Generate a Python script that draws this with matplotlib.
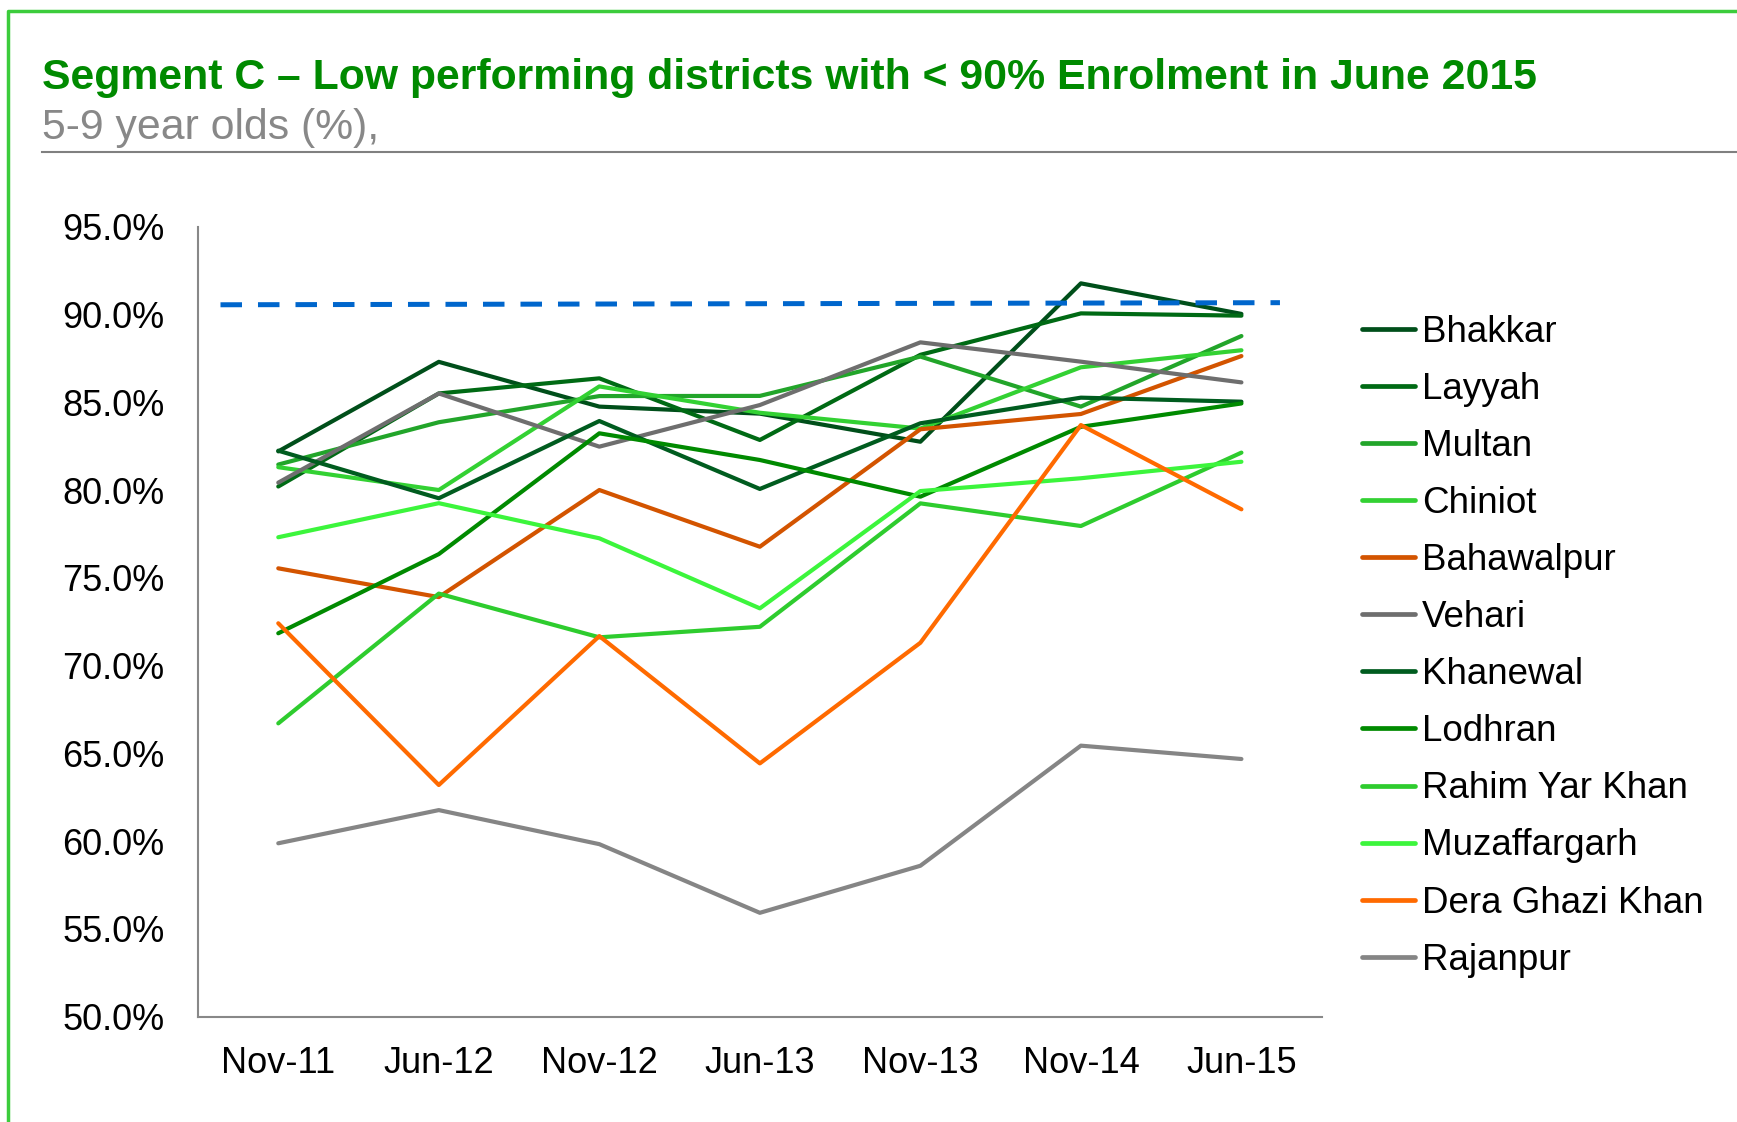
import matplotlib
matplotlib.use("agg")
import matplotlib.pyplot as plt
from matplotlib.lines import Line2D

# survey rounds
rounds = ["Nov-11", "Jun-12", "Nov-12", "Jun-13", "Nov-13", "Nov-14", "Jun-15"]

# enrolment of 5-9 year olds (%) per district
districts = ["Bhakkar", "Layyah", "Multan", "Chiniot", "Bahawalpur", "Vehari",
             "Khanewal", "Lodhran", "Rahim Yar Khan", "Muzaffargarh",
             "Dera Ghazi Khan", "Rajanpur"]
bhakkar = [82.2, 87.3, 84.75, 84.35, 82.75, 91.77, 90.03]
layyah = [80.2, 85.5, 86.36, 82.85, 87.7, 90.06, 89.93]
multan = [81.45, 83.86, 85.35, 85.36, 87.6, 84.75, 88.77]
chiniot = [81.3, 80.0, 85.9, 84.4, 83.5, 86.99, 87.96]
bahawalpur = [75.54, 73.9, 80.0, 76.77, 83.46, 84.33, 87.63]
vehari = [80.42, 85.5, 82.47, 84.84, 88.41, 87.31, 86.13]
khanewal = [82.24, 79.53, 83.93, 80.06, 83.8, 85.26, 85.03]
lodhran = [71.84, 76.35, 83.23, 81.71, 79.62, 83.6, 84.93]
rahim_yar_khan = [66.71, 74.1, 71.61, 72.21, 79.24, 77.95, 82.13]
muzaffargarh = [77.31, 79.25, 77.25, 73.26, 79.94, 80.67, 81.61]
dera_ghazi_khan = [72.41, 63.2, 71.68, 64.43, 71.3, 83.7, 78.9]
rajanpur = [59.88, 61.77, 59.83, 55.92, 58.6, 65.44, 64.68]
series = [bhakkar, layyah, multan, chiniot, bahawalpur, vehari, khanewal,
          lodhran, rahim_yar_khan, muzaffargarh, dera_ghazi_khan, rajanpur]

# 90% target line (drawn across the plot)
target_x = [-0.36, 6.24]
target_y = [90.55, 90.67]

colors = ["#004f1a", "#006a14", "#22a52a", "#33d133", "#d35400", "#6e6e6e",
          "#005c1f", "#008a00", "#2ecc2e", "#3cf53c", "#ff6a00", "#858585"]

plt.rcParams["font.family"] = ["Liberation Sans", "DejaVu Sans"]

fig = plt.figure(figsize=(17.37, 11.22), dpi=100)
ax = fig.add_axes([0.114, 0.0938, 0.6469, 0.7042])

x = list(range(len(rounds)))
for name, vals, c in zip(districts, series, colors):
    ax.plot(x, vals, color=c, lw=3, label=name, solid_capstyle="round")

ax.plot(target_x, target_y, color="#0066cc", lw=3.6, dashes=(4.3, 3.2))

ax.set_xlim(-0.5, 6.5)
ax.set_ylim(50, 95)
ax.set_xticks(x)
ax.set_xticklabels(rounds)
ax.set_yticks(range(50, 96, 5))
ax.set_yticklabels([f"{v:.1f}%" for v in range(50, 96, 5)])
ax.tick_params(axis="both", length=0, labelsize=26)
ax.tick_params(axis="y", pad=24)
ax.tick_params(axis="x", pad=21)
for s in ["top", "right"]:
    ax.spines[s].set_visible(False)
for s in ["left", "bottom"]:
    ax.spines[s].set_color("#888888")
    ax.spines[s].set_linewidth(1.5)

leg = ax.legend(loc="upper left", bbox_to_anchor=(1362 / 1737, 0.7195),
                bbox_transform=fig.transFigure, frameon=False, fontsize=26.5,
                handlelength=1.45, handletextpad=0.17, labelspacing=0.6,
                borderpad=0, borderaxespad=0)
for h in leg.get_lines():
    h.set_linewidth(3.4)

# title block
fig.text(42 / 1737, 1 - 77.5 / 1122,
         "Segment C \u2013 Low performing districts with < 90% Enrolment in June 2015",
         fontsize=30.8, fontweight="bold", color="#008a00", va="center")
fig.text(42 / 1737, 1 - 128.5 / 1122, "5-9 year olds (%),", fontsize=30.8,
         color="#888888", va="center")
fig.add_artist(Line2D([42 / 1737, 1], [1 - 152 / 1122] * 2, color="#808080", lw=1.5))

# green frame around the slide panel
fig.add_artist(Line2D([8 / 1737, 8 / 1737, 1], [0, 1 - 11 / 1122, 1 - 11 / 1122],
                      color="#3ccc3c", lw=2.5))

fig.savefig("out.png", dpi=100)
